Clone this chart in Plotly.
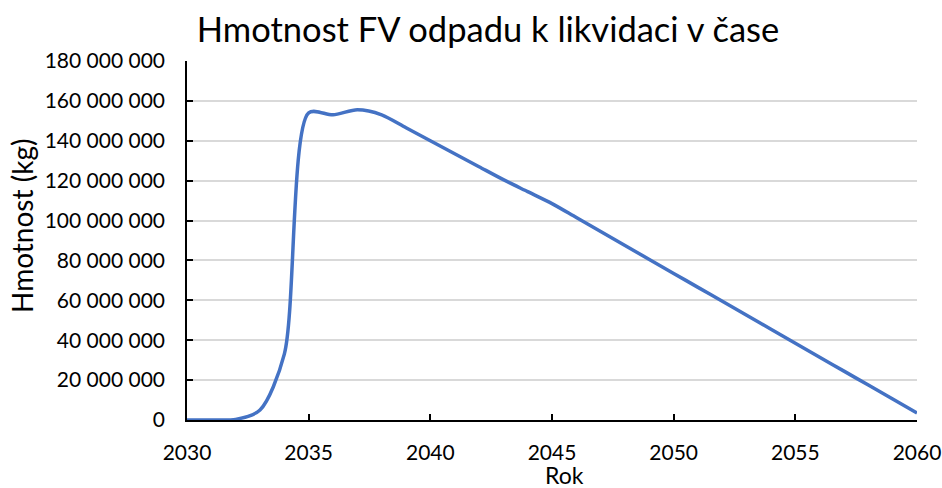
import plotly.graph_objects as go

years = list(range(2030, 2061))
mass_kg = [
    0, 0, 300_000, 5_000_000, 33_000_000, 154_000_000, 153_000_000, 155_500_000,
    153_000_000, 146_500_000, 140_000_000, 133_500_000, 127_000_000, 120_500_000,
    114_500_000, 108_500_000, 101_500_000, 94_500_000, 87_500_000, 80_500_000,
    73_500_000, 66_500_000, 59_500_000, 52_500_000, 45_500_000, 38_500_000,
    31_500_000, 24_500_000, 17_500_000, 10_500_000, 3_500_000,
]
y_ticks = list(range(0, 180_000_001, 20_000_000))
x_ticks = list(range(2030, 2061, 5))

title_text = "Hmotnost FV odpadu k likvidaci v čase"
x_title = "Rok"
y_title = "Hmotnost (kg)"

FONT = "Lato"
W, H = 942, 488
L, R, T, B = 187, 25, 61, 68
PW, PH = W - L - R, H - T - B

fig = go.Figure()
fig.add_trace(go.Scatter(
    x=years, y=mass_kg, mode="lines",
    line=dict(color="#4472C4", width=3.5, shape="spline", smoothing=0.8),
    hoverinfo="x+y",
))

fig.update_layout(
    width=W, height=H,
    margin=dict(l=L, r=R, t=T, b=B, autoexpand=False),
    paper_bgcolor="white", plot_bgcolor="white",
    separators=". ",
    showlegend=False,
    font=dict(family=FONT, color="#000000", size=21),
    title=dict(text=title_text, x=488 / W, xanchor="center", xref="container",
               y=1 - 30 / H, yanchor="middle",
               font=dict(family=FONT, size=34.5, color="#000000")),
    annotations=[
        dict(text=y_title, textangle=-90, xref="paper", yref="paper",
             x=(22 - L) / PW, y=(420 - 226) / PH, xanchor="center", yanchor="middle",
             showarrow=False, font=dict(family=FONT, size=28, color="#000000")),
        dict(text=x_title, xref="paper", yref="paper",
             x=(564 - L) / PW, y=(420 - 475) / PH, xanchor="center", yanchor="middle",
             borderpad=0, showarrow=False,
             font=dict(family=FONT, size=23, color="#000000")),
    ],
)
fig.update_xaxes(
    range=[2030, 2060], tickmode="array", tickvals=x_ticks, tickformat="d",
    showline=True, linecolor="#000000", linewidth=1.5,
    ticks="inside", ticklen=6, tickcolor="#000000", tickwidth=1.5,
    showgrid=False, zeroline=False, ticklabelstandoff=13,
    tickfont=dict(family=FONT, size=21),
)
fig.update_yaxes(
    range=[0, 180_000_000], tickmode="array", tickvals=y_ticks, tickformat=",d",
    showline=True, linecolor="#000000", linewidth=1.5,
    ticks="inside", ticklen=6, tickcolor="#000000", tickwidth=1.5,
    showgrid=True, gridcolor="#d9d9d9", gridwidth=1.5, zeroline=False,
    ticklabelstandoff=16,
    tickfont=dict(family=FONT, size=21),
)

fig.write_html("out.html", config={"displayModeBar": False},
               post_script="document.body.style.margin='0';")
